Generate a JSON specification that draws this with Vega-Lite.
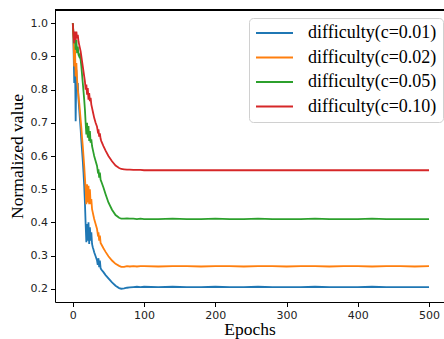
{
"$schema":"https://vega.github.io/schema/vega-lite/v6.json",
"width":389,"height":292,
"autosize":{"type":"none"},
"padding":{"left":55,"top":10,"right":0,"bottom":37},
"background":"white",
"config":{"view":{"stroke":null},
"axis":{"domainColor":"black","domainWidth":1,"tickColor":"black","tickSize":4.5,"tickWidth":1,"grid":false,"labelOverlap":false,"labelFont":"DejaVu Sans","labelFontSize":11,"labelColor":"#222","labelPadding":3,"titleFont":"Liberation Serif","titleFontSize":17.5,"titleFontWeight":"normal","titleColor":"black"}},
"data":{"values":[
{"e":0,"v":1.0,"s":"difficulty(c=0.01)"},{"e":1,"v":0.93,"s":"difficulty(c=0.01)"},{"e":2,"v":0.82,"s":"difficulty(c=0.01)"},{"e":3,"v":0.91,"s":"difficulty(c=0.01)"},{"e":4,"v":0.705,"s":"difficulty(c=0.01)"},{"e":5,"v":0.86,"s":"difficulty(c=0.01)"},{"e":6,"v":0.80,"s":"difficulty(c=0.01)"},{"e":7,"v":0.82,"s":"difficulty(c=0.01)"},{"e":8,"v":0.77,"s":"difficulty(c=0.01)"},{"e":9,"v":0.74,"s":"difficulty(c=0.01)"},{"e":10,"v":0.71,"s":"difficulty(c=0.01)"},{"e":11,"v":0.68,"s":"difficulty(c=0.01)"},{"e":12,"v":0.645,"s":"difficulty(c=0.01)"},{"e":13,"v":0.615,"s":"difficulty(c=0.01)"},{"e":14,"v":0.585,"s":"difficulty(c=0.01)"},{"e":15,"v":0.55,"s":"difficulty(c=0.01)"},{"e":16,"v":0.51,"s":"difficulty(c=0.01)"},{"e":17,"v":0.46,"s":"difficulty(c=0.01)"},{"e":18,"v":0.395,"s":"difficulty(c=0.01)"},{"e":19,"v":0.34,"s":"difficulty(c=0.01)"},{"e":20,"v":0.395,"s":"difficulty(c=0.01)"},{"e":21,"v":0.345,"s":"difficulty(c=0.01)"},{"e":22,"v":0.40,"s":"difficulty(c=0.01)"},{"e":23,"v":0.335,"s":"difficulty(c=0.01)"},{"e":24,"v":0.385,"s":"difficulty(c=0.01)"},{"e":25,"v":0.345,"s":"difficulty(c=0.01)"},{"e":26,"v":0.37,"s":"difficulty(c=0.01)"},{"e":27,"v":0.335,"s":"difficulty(c=0.01)"},{"e":28,"v":0.325,"s":"difficulty(c=0.01)"},{"e":29,"v":0.318,"s":"difficulty(c=0.01)"},{"e":30,"v":0.31,"s":"difficulty(c=0.01)"},{"e":32,"v":0.298,"s":"difficulty(c=0.01)"},{"e":34,"v":0.285,"s":"difficulty(c=0.01)"},{"e":35,"v":0.272,"s":"difficulty(c=0.01)"},{"e":36,"v":0.292,"s":"difficulty(c=0.01)"},{"e":37,"v":0.265,"s":"difficulty(c=0.01)"},{"e":38,"v":0.285,"s":"difficulty(c=0.01)"},{"e":39,"v":0.262,"s":"difficulty(c=0.01)"},{"e":40,"v":0.258,"s":"difficulty(c=0.01)"},{"e":43,"v":0.25,"s":"difficulty(c=0.01)"},{"e":46,"v":0.241,"s":"difficulty(c=0.01)"},{"e":50,"v":0.231,"s":"difficulty(c=0.01)"},{"e":55,"v":0.219,"s":"difficulty(c=0.01)"},{"e":60,"v":0.209,"s":"difficulty(c=0.01)"},{"e":65,"v":0.202,"s":"difficulty(c=0.01)"},{"e":68,"v":0.200,"s":"difficulty(c=0.01)"},{"e":72,"v":0.201,"s":"difficulty(c=0.01)"},{"e":76,"v":0.203,"s":"difficulty(c=0.01)"},{"e":80,"v":0.204,"s":"difficulty(c=0.01)"},{"e":85,"v":0.205,"s":"difficulty(c=0.01)"},{"e":90,"v":0.206,"s":"difficulty(c=0.01)"},{"e":95,"v":0.205,"s":"difficulty(c=0.01)"},{"e":100,"v":0.206,"s":"difficulty(c=0.01)"},{"e":120,"v":0.205,"s":"difficulty(c=0.01)"},{"e":140,"v":0.206,"s":"difficulty(c=0.01)"},{"e":160,"v":0.205,"s":"difficulty(c=0.01)"},{"e":180,"v":0.205,"s":"difficulty(c=0.01)"},{"e":200,"v":0.206,"s":"difficulty(c=0.01)"},{"e":220,"v":0.205,"s":"difficulty(c=0.01)"},{"e":240,"v":0.205,"s":"difficulty(c=0.01)"},{"e":260,"v":0.206,"s":"difficulty(c=0.01)"},{"e":280,"v":0.205,"s":"difficulty(c=0.01)"},{"e":300,"v":0.205,"s":"difficulty(c=0.01)"},{"e":320,"v":0.205,"s":"difficulty(c=0.01)"},{"e":340,"v":0.206,"s":"difficulty(c=0.01)"},{"e":360,"v":0.205,"s":"difficulty(c=0.01)"},{"e":380,"v":0.205,"s":"difficulty(c=0.01)"},{"e":400,"v":0.205,"s":"difficulty(c=0.01)"},{"e":420,"v":0.206,"s":"difficulty(c=0.01)"},{"e":440,"v":0.205,"s":"difficulty(c=0.01)"},{"e":460,"v":0.205,"s":"difficulty(c=0.01)"},{"e":480,"v":0.205,"s":"difficulty(c=0.01)"},{"e":500,"v":0.205,"s":"difficulty(c=0.01)"},
{"e":0,"v":1.0,"s":"difficulty(c=0.02)"},{"e":1,"v":0.95,"s":"difficulty(c=0.02)"},{"e":2,"v":0.87,"s":"difficulty(c=0.02)"},{"e":3,"v":0.93,"s":"difficulty(c=0.02)"},{"e":4,"v":0.84,"s":"difficulty(c=0.02)"},{"e":5,"v":0.88,"s":"difficulty(c=0.02)"},{"e":6,"v":0.83,"s":"difficulty(c=0.02)"},{"e":7,"v":0.80,"s":"difficulty(c=0.02)"},{"e":8,"v":0.78,"s":"difficulty(c=0.02)"},{"e":9,"v":0.76,"s":"difficulty(c=0.02)"},{"e":10,"v":0.735,"s":"difficulty(c=0.02)"},{"e":11,"v":0.71,"s":"difficulty(c=0.02)"},{"e":12,"v":0.685,"s":"difficulty(c=0.02)"},{"e":13,"v":0.655,"s":"difficulty(c=0.02)"},{"e":14,"v":0.63,"s":"difficulty(c=0.02)"},{"e":15,"v":0.60,"s":"difficulty(c=0.02)"},{"e":16,"v":0.57,"s":"difficulty(c=0.02)"},{"e":17,"v":0.535,"s":"difficulty(c=0.02)"},{"e":18,"v":0.50,"s":"difficulty(c=0.02)"},{"e":19,"v":0.455,"s":"difficulty(c=0.02)"},{"e":20,"v":0.515,"s":"difficulty(c=0.02)"},{"e":21,"v":0.46,"s":"difficulty(c=0.02)"},{"e":22,"v":0.51,"s":"difficulty(c=0.02)"},{"e":23,"v":0.455,"s":"difficulty(c=0.02)"},{"e":24,"v":0.50,"s":"difficulty(c=0.02)"},{"e":25,"v":0.455,"s":"difficulty(c=0.02)"},{"e":26,"v":0.47,"s":"difficulty(c=0.02)"},{"e":27,"v":0.44,"s":"difficulty(c=0.02)"},{"e":28,"v":0.43,"s":"difficulty(c=0.02)"},{"e":29,"v":0.42,"s":"difficulty(c=0.02)"},{"e":30,"v":0.41,"s":"difficulty(c=0.02)"},{"e":32,"v":0.395,"s":"difficulty(c=0.02)"},{"e":34,"v":0.38,"s":"difficulty(c=0.02)"},{"e":35,"v":0.365,"s":"difficulty(c=0.02)"},{"e":36,"v":0.37,"s":"difficulty(c=0.02)"},{"e":37,"v":0.345,"s":"difficulty(c=0.02)"},{"e":38,"v":0.36,"s":"difficulty(c=0.02)"},{"e":39,"v":0.338,"s":"difficulty(c=0.02)"},{"e":40,"v":0.334,"s":"difficulty(c=0.02)"},{"e":43,"v":0.322,"s":"difficulty(c=0.02)"},{"e":46,"v":0.311,"s":"difficulty(c=0.02)"},{"e":50,"v":0.298,"s":"difficulty(c=0.02)"},{"e":55,"v":0.285,"s":"difficulty(c=0.02)"},{"e":60,"v":0.275,"s":"difficulty(c=0.02)"},{"e":65,"v":0.269,"s":"difficulty(c=0.02)"},{"e":68,"v":0.266,"s":"difficulty(c=0.02)"},{"e":72,"v":0.266,"s":"difficulty(c=0.02)"},{"e":76,"v":0.268,"s":"difficulty(c=0.02)"},{"e":80,"v":0.267,"s":"difficulty(c=0.02)"},{"e":85,"v":0.268,"s":"difficulty(c=0.02)"},{"e":90,"v":0.267,"s":"difficulty(c=0.02)"},{"e":95,"v":0.268,"s":"difficulty(c=0.02)"},{"e":100,"v":0.268,"s":"difficulty(c=0.02)"},{"e":120,"v":0.267,"s":"difficulty(c=0.02)"},{"e":140,"v":0.268,"s":"difficulty(c=0.02)"},{"e":160,"v":0.268,"s":"difficulty(c=0.02)"},{"e":180,"v":0.267,"s":"difficulty(c=0.02)"},{"e":200,"v":0.268,"s":"difficulty(c=0.02)"},{"e":220,"v":0.268,"s":"difficulty(c=0.02)"},{"e":240,"v":0.267,"s":"difficulty(c=0.02)"},{"e":260,"v":0.268,"s":"difficulty(c=0.02)"},{"e":280,"v":0.268,"s":"difficulty(c=0.02)"},{"e":300,"v":0.267,"s":"difficulty(c=0.02)"},{"e":320,"v":0.268,"s":"difficulty(c=0.02)"},{"e":340,"v":0.268,"s":"difficulty(c=0.02)"},{"e":360,"v":0.267,"s":"difficulty(c=0.02)"},{"e":380,"v":0.268,"s":"difficulty(c=0.02)"},{"e":400,"v":0.268,"s":"difficulty(c=0.02)"},{"e":420,"v":0.267,"s":"difficulty(c=0.02)"},{"e":440,"v":0.268,"s":"difficulty(c=0.02)"},{"e":460,"v":0.268,"s":"difficulty(c=0.02)"},{"e":480,"v":0.267,"s":"difficulty(c=0.02)"},{"e":500,"v":0.268,"s":"difficulty(c=0.02)"},
{"e":0,"v":1.0,"s":"difficulty(c=0.05)"},{"e":1,"v":0.97,"s":"difficulty(c=0.05)"},{"e":2,"v":0.94,"s":"difficulty(c=0.05)"},{"e":3,"v":0.96,"s":"difficulty(c=0.05)"},{"e":4,"v":0.92,"s":"difficulty(c=0.05)"},{"e":5,"v":0.95,"s":"difficulty(c=0.05)"},{"e":6,"v":0.91,"s":"difficulty(c=0.05)"},{"e":7,"v":0.93,"s":"difficulty(c=0.05)"},{"e":8,"v":0.905,"s":"difficulty(c=0.05)"},{"e":9,"v":0.90,"s":"difficulty(c=0.05)"},{"e":10,"v":0.905,"s":"difficulty(c=0.05)"},{"e":11,"v":0.89,"s":"difficulty(c=0.05)"},{"e":12,"v":0.87,"s":"difficulty(c=0.05)"},{"e":13,"v":0.845,"s":"difficulty(c=0.05)"},{"e":14,"v":0.82,"s":"difficulty(c=0.05)"},{"e":15,"v":0.795,"s":"difficulty(c=0.05)"},{"e":16,"v":0.77,"s":"difficulty(c=0.05)"},{"e":17,"v":0.74,"s":"difficulty(c=0.05)"},{"e":18,"v":0.70,"s":"difficulty(c=0.05)"},{"e":19,"v":0.665,"s":"difficulty(c=0.05)"},{"e":20,"v":0.70,"s":"difficulty(c=0.05)"},{"e":21,"v":0.655,"s":"difficulty(c=0.05)"},{"e":22,"v":0.69,"s":"difficulty(c=0.05)"},{"e":23,"v":0.645,"s":"difficulty(c=0.05)"},{"e":24,"v":0.675,"s":"difficulty(c=0.05)"},{"e":25,"v":0.64,"s":"difficulty(c=0.05)"},{"e":26,"v":0.65,"s":"difficulty(c=0.05)"},{"e":27,"v":0.63,"s":"difficulty(c=0.05)"},{"e":28,"v":0.62,"s":"difficulty(c=0.05)"},{"e":29,"v":0.61,"s":"difficulty(c=0.05)"},{"e":30,"v":0.60,"s":"difficulty(c=0.05)"},{"e":32,"v":0.585,"s":"difficulty(c=0.05)"},{"e":34,"v":0.57,"s":"difficulty(c=0.05)"},{"e":35,"v":0.555,"s":"difficulty(c=0.05)"},{"e":36,"v":0.56,"s":"difficulty(c=0.05)"},{"e":37,"v":0.535,"s":"difficulty(c=0.05)"},{"e":38,"v":0.55,"s":"difficulty(c=0.05)"},{"e":39,"v":0.528,"s":"difficulty(c=0.05)"},{"e":40,"v":0.523,"s":"difficulty(c=0.05)"},{"e":43,"v":0.505,"s":"difficulty(c=0.05)"},{"e":46,"v":0.485,"s":"difficulty(c=0.05)"},{"e":50,"v":0.46,"s":"difficulty(c=0.05)"},{"e":55,"v":0.438,"s":"difficulty(c=0.05)"},{"e":60,"v":0.422,"s":"difficulty(c=0.05)"},{"e":65,"v":0.414,"s":"difficulty(c=0.05)"},{"e":68,"v":0.411,"s":"difficulty(c=0.05)"},{"e":72,"v":0.411,"s":"difficulty(c=0.05)"},{"e":76,"v":0.412,"s":"difficulty(c=0.05)"},{"e":80,"v":0.411,"s":"difficulty(c=0.05)"},{"e":85,"v":0.411,"s":"difficulty(c=0.05)"},{"e":90,"v":0.410,"s":"difficulty(c=0.05)"},{"e":95,"v":0.411,"s":"difficulty(c=0.05)"},{"e":100,"v":0.410,"s":"difficulty(c=0.05)"},{"e":120,"v":0.410,"s":"difficulty(c=0.05)"},{"e":140,"v":0.411,"s":"difficulty(c=0.05)"},{"e":160,"v":0.410,"s":"difficulty(c=0.05)"},{"e":180,"v":0.410,"s":"difficulty(c=0.05)"},{"e":200,"v":0.411,"s":"difficulty(c=0.05)"},{"e":220,"v":0.410,"s":"difficulty(c=0.05)"},{"e":240,"v":0.410,"s":"difficulty(c=0.05)"},{"e":260,"v":0.411,"s":"difficulty(c=0.05)"},{"e":280,"v":0.410,"s":"difficulty(c=0.05)"},{"e":300,"v":0.410,"s":"difficulty(c=0.05)"},{"e":320,"v":0.410,"s":"difficulty(c=0.05)"},{"e":340,"v":0.411,"s":"difficulty(c=0.05)"},{"e":360,"v":0.410,"s":"difficulty(c=0.05)"},{"e":380,"v":0.410,"s":"difficulty(c=0.05)"},{"e":400,"v":0.410,"s":"difficulty(c=0.05)"},{"e":420,"v":0.411,"s":"difficulty(c=0.05)"},{"e":440,"v":0.410,"s":"difficulty(c=0.05)"},{"e":460,"v":0.410,"s":"difficulty(c=0.05)"},{"e":480,"v":0.410,"s":"difficulty(c=0.05)"},{"e":500,"v":0.410,"s":"difficulty(c=0.05)"},
{"e":0,"v":1.0,"s":"difficulty(c=0.10)"},{"e":1,"v":0.965,"s":"difficulty(c=0.10)"},{"e":2,"v":0.94,"s":"difficulty(c=0.10)"},{"e":3,"v":0.975,"s":"difficulty(c=0.10)"},{"e":4,"v":0.95,"s":"difficulty(c=0.10)"},{"e":5,"v":0.975,"s":"difficulty(c=0.10)"},{"e":6,"v":0.955,"s":"difficulty(c=0.10)"},{"e":7,"v":0.965,"s":"difficulty(c=0.10)"},{"e":8,"v":0.945,"s":"difficulty(c=0.10)"},{"e":9,"v":0.935,"s":"difficulty(c=0.10)"},{"e":10,"v":0.925,"s":"difficulty(c=0.10)"},{"e":11,"v":0.915,"s":"difficulty(c=0.10)"},{"e":12,"v":0.90,"s":"difficulty(c=0.10)"},{"e":13,"v":0.885,"s":"difficulty(c=0.10)"},{"e":14,"v":0.87,"s":"difficulty(c=0.10)"},{"e":15,"v":0.855,"s":"difficulty(c=0.10)"},{"e":16,"v":0.84,"s":"difficulty(c=0.10)"},{"e":17,"v":0.825,"s":"difficulty(c=0.10)"},{"e":18,"v":0.80,"s":"difficulty(c=0.10)"},{"e":19,"v":0.815,"s":"difficulty(c=0.10)"},{"e":20,"v":0.785,"s":"difficulty(c=0.10)"},{"e":21,"v":0.805,"s":"difficulty(c=0.10)"},{"e":22,"v":0.77,"s":"difficulty(c=0.10)"},{"e":23,"v":0.79,"s":"difficulty(c=0.10)"},{"e":24,"v":0.765,"s":"difficulty(c=0.10)"},{"e":25,"v":0.775,"s":"difficulty(c=0.10)"},{"e":26,"v":0.755,"s":"difficulty(c=0.10)"},{"e":27,"v":0.745,"s":"difficulty(c=0.10)"},{"e":28,"v":0.735,"s":"difficulty(c=0.10)"},{"e":29,"v":0.725,"s":"difficulty(c=0.10)"},{"e":30,"v":0.715,"s":"difficulty(c=0.10)"},{"e":32,"v":0.70,"s":"difficulty(c=0.10)"},{"e":34,"v":0.688,"s":"difficulty(c=0.10)"},{"e":35,"v":0.675,"s":"difficulty(c=0.10)"},{"e":36,"v":0.68,"s":"difficulty(c=0.10)"},{"e":37,"v":0.658,"s":"difficulty(c=0.10)"},{"e":38,"v":0.668,"s":"difficulty(c=0.10)"},{"e":39,"v":0.652,"s":"difficulty(c=0.10)"},{"e":40,"v":0.645,"s":"difficulty(c=0.10)"},{"e":43,"v":0.63,"s":"difficulty(c=0.10)"},{"e":46,"v":0.616,"s":"difficulty(c=0.10)"},{"e":50,"v":0.60,"s":"difficulty(c=0.10)"},{"e":55,"v":0.584,"s":"difficulty(c=0.10)"},{"e":60,"v":0.571,"s":"difficulty(c=0.10)"},{"e":65,"v":0.564,"s":"difficulty(c=0.10)"},{"e":68,"v":0.561,"s":"difficulty(c=0.10)"},{"e":72,"v":0.560,"s":"difficulty(c=0.10)"},{"e":76,"v":0.559,"s":"difficulty(c=0.10)"},{"e":80,"v":0.559,"s":"difficulty(c=0.10)"},{"e":85,"v":0.558,"s":"difficulty(c=0.10)"},{"e":90,"v":0.558,"s":"difficulty(c=0.10)"},{"e":95,"v":0.558,"s":"difficulty(c=0.10)"},{"e":100,"v":0.557,"s":"difficulty(c=0.10)"},{"e":120,"v":0.557,"s":"difficulty(c=0.10)"},{"e":140,"v":0.557,"s":"difficulty(c=0.10)"},{"e":160,"v":0.557,"s":"difficulty(c=0.10)"},{"e":180,"v":0.557,"s":"difficulty(c=0.10)"},{"e":200,"v":0.557,"s":"difficulty(c=0.10)"},{"e":220,"v":0.557,"s":"difficulty(c=0.10)"},{"e":240,"v":0.557,"s":"difficulty(c=0.10)"},{"e":260,"v":0.557,"s":"difficulty(c=0.10)"},{"e":280,"v":0.557,"s":"difficulty(c=0.10)"},{"e":300,"v":0.557,"s":"difficulty(c=0.10)"},{"e":320,"v":0.557,"s":"difficulty(c=0.10)"},{"e":340,"v":0.557,"s":"difficulty(c=0.10)"},{"e":360,"v":0.557,"s":"difficulty(c=0.10)"},{"e":380,"v":0.557,"s":"difficulty(c=0.10)"},{"e":400,"v":0.557,"s":"difficulty(c=0.10)"},{"e":420,"v":0.557,"s":"difficulty(c=0.10)"},{"e":440,"v":0.557,"s":"difficulty(c=0.10)"},{"e":460,"v":0.557,"s":"difficulty(c=0.10)"},{"e":480,"v":0.557,"s":"difficulty(c=0.10)"},{"e":500,"v":0.557,"s":"difficulty(c=0.10)"}
]},
"layer":[
{"mark":{"type":"rule","color":"black","strokeWidth":1},"encoding":{"y":{"datum":1.04,"type":"quantitative","scale":{"domain":[0.16,1.04],"nice":false,"zero":false},"axis":{"title":"Normalized value","values":[0.2,0.3,0.4,0.5,0.6,0.7,0.8,0.9,1.0],"format":".1f","titlePadding":4,"labelOverlap":false}}}},
{"mark":{"type":"line","strokeWidth":1.8,"clip":true},
"encoding":{
"x":{"field":"e","type":"quantitative","scale":{"domain":[-25,521],"nice":false,"zero":false},"axis":{"title":"Epochs","values":[0,100,200,300,400,500],"titlePadding":0}},
"y":{"field":"v","type":"quantitative","scale":{"domain":[0.16,1.04],"nice":false,"zero":false},"axis":{"title":"Normalized value","values":[0.2,0.3,0.4,0.5,0.6,0.7,0.8,0.9,1.0],"format":".1f","titlePadding":4,"labelOverlap":false}},
"color":{"field":"s","type":"nominal","scale":{"domain":["difficulty(c=0.01)","difficulty(c=0.02)","difficulty(c=0.05)","difficulty(c=0.10)"],"range":["#1f77b4","#ff7f0e","#2ca02c","#d62728"]},
"legend":{"title":null,"orient":"none","legendX":194,"legendY":8,"symbolType":"stroke","symbolSize":1369,"symbolStrokeWidth":1.8,"labelFont":"Liberation Serif","labelFontSize":18,"labelColor":"black","labelOffset":14,"strokeColor":"#d0d0d0","cornerRadius":4,"fillColor":"rgba(255,255,255,0.8)","padding":6,"rowPadding":6.5,"clipHeight":18}}
}}
]
}
